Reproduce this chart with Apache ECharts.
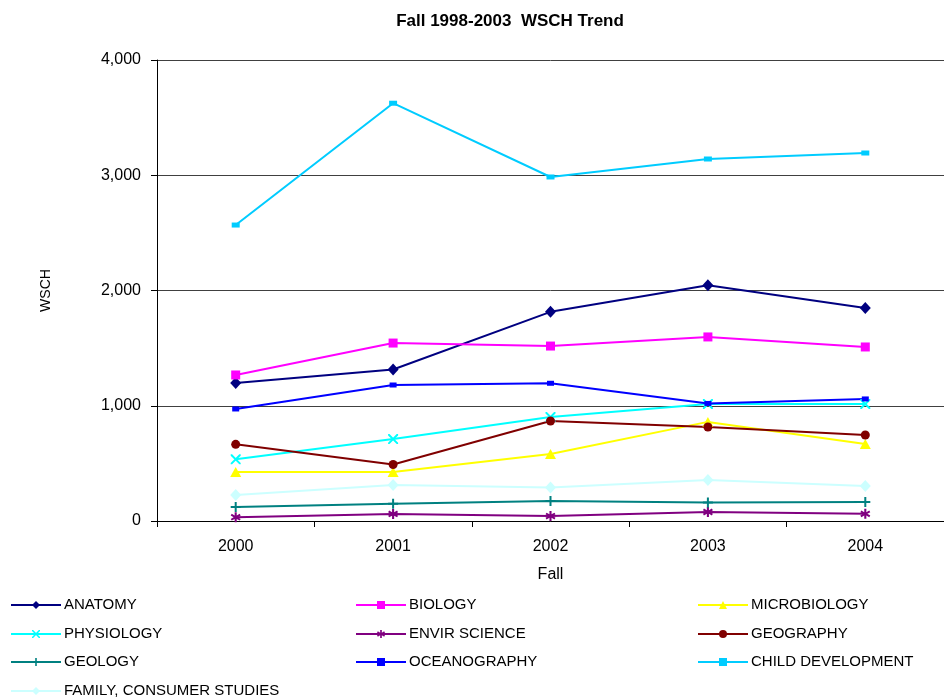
<!DOCTYPE html>
<html>
<head>
<meta charset="utf-8">
<script src="https://cdn.jsdelivr.net/npm/echarts@6/dist/echarts.min.js"></script>
<style>
  html, body { margin: 0; padding: 0; background: #fff; }
  #chart { width: 944px; height: 699px; }
</style>
</head>
<body>
<div id="chart"></div>
<script>
const years = ['2000', '2001', '2002', '2003', '2004']
const anatomy = [1197, 1315, 1815, 2045, 1848]
const biology = [1267, 1544, 1518, 1597, 1510]
const microbiology = [425, 425, 581, 860, 668]
const physiology = [535, 711, 902, 1015, 1015]
const envirScience = [33, 61, 43, 78, 62]
const geography = [665, 490, 868, 816, 746]
const geology = [121, 150, 174, 160, 165]
const oceanography = [972, 1180, 1195, 1020, 1059]
const childDevelopment = [2568, 3625, 2985, 3141, 3193]
const familyConsumer = [226, 312, 290, 356, 304]

const font = 'Liberation Sans, Arial, sans-serif'

// custom marker shapes
const xMark = 'path://M0,0L1.4,0L10,8.6L10,10L8.6,10L0,1.4ZM10,0L10,1.4L1.4,10L0,10L0,8.6L8.6,0Z'
const plusMark = 'path://M4,0H6V4H10V6H6V10H4V6H0V4H4Z'
const starMark = 'path://M4,0H6V3.3L8.8,1.6L9.8,3.3L7,5L9.8,6.7L8.8,8.4L6,6.7V10H4V6.7L1.2,8.4L0.2,6.7L3,5L0.2,3.3L1.2,1.6L4,3.3Z'

const mk = (name, data, color, symbol, size) => ({
  name,
  type: 'line',
  data,
  color,
  symbol,
  symbolSize: size,
  showAllSymbol: true,
  lineStyle: { width: 2, color },
  itemStyle: { color },
  emphasis: { disabled: true },
  animation: false
})

const series = [
  mk('ANATOMY', anatomy, '#000080', 'diamond', [11, 12]),
  mk('BIOLOGY', biology, '#FF00FF', 'rect', [9, 9]),
  mk('MICROBIOLOGY', microbiology, '#FFFF00', 'triangle', [11, 10]),
  mk('PHYSIOLOGY', physiology, '#00FFFF', xMark, [10, 10]),
  mk('ENVIR SCIENCE', envirScience, '#800080', starMark, [10, 10]),
  mk('GEOGRAPHY', geography, '#800000', 'circle', 9),
  mk('GEOLOGY', geology, '#008080', plusMark, [10, 10]),
  mk('OCEANOGRAPHY', oceanography, '#0000FF', 'rect', [7, 5]),
  mk('CHILD DEVELOPMENT', childDevelopment, '#00CCFF', 'rect', [8, 5]),
  mk('FAMILY, CONSUMER STUDIES', familyConsumer, '#CCFFFF', 'diamond', [11, 12])
]

// legend grid: 3 columns, 4 rows
const legendCols = [10, 355, 697]
const legendRows = [597, 626, 654, 683]
const legends = series.map((s, i) => ({
  data: [s.name],
  left: legendCols[i % 3],
  top: legendRows[Math.floor(i / 3)],
  padding: 0,
  itemWidth: 50,
  itemHeight: 10,
  textStyle: { fontFamily: font, fontSize: 15, color: '#000', lineHeight: 16, padding: [0, 0, 0, -2] },
  selectedMode: false
}))

const chart = echarts.init(document.getElementById('chart'))
chart.setOption({
  backgroundColor: '#fff',
  animation: false,
  title: {
    text: 'Fall 1998-2003  WSCH Trend',
    left: 505,
    textAlign: 'center',
    top: 8,
    textStyle: { fontFamily: font, fontSize: 17, fontWeight: 'bold', color: '#000' }
  },
  grid: { left: 157, right: 0, top: 60, bottom: 178 },
  legend: legends,
  xAxis: {
    type: 'category',
    data: years,
    boundaryGap: true,
    name: 'Fall',
    nameLocation: 'middle',
    nameGap: 46,
    nameTextStyle: { fontFamily: font, fontSize: 16, color: '#000' },
    axisLine: { lineStyle: { color: '#000', width: 1 } },
    axisTick: { show: true, length: 6, lineStyle: { color: '#000' } },
    axisLabel: { fontFamily: font, fontSize: 16, color: '#000', margin: 18 }
  },
  yAxis: {
    type: 'value',
    min: 0,
    max: 4000,
    interval: 1000,
    name: 'WSCH',
    nameLocation: 'middle',
    nameGap: 104,
    nameRotate: 90,
    nameTextStyle: { fontFamily: font, fontSize: 14, color: '#000' },
    axisLine: { show: true, lineStyle: { color: '#000', width: 1 } },
    axisTick: { show: true, length: 6, lineStyle: { color: '#000' } },
    axisLabel: {
      fontFamily: font, fontSize: 16, color: '#000', margin: 16,
      formatter: v => v.toLocaleString('en-US')
    },
    splitLine: { lineStyle: { color: '#404040', width: 1 } }
  },
  series
})
</script>
</body>
</html>
